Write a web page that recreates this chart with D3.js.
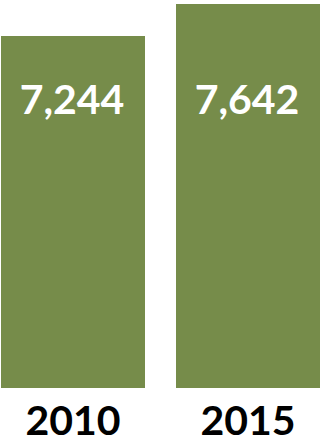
<!DOCTYPE html>
<html>
<head>
<meta charset="utf-8">
<script src="https://cdn.jsdelivr.net/npm/d3@7"></script>
<style>
  html, body { margin: 0; padding: 0; background: #fff; }
  svg { display: block; }
</style>
</head>
<body>
<svg id="chart" width="321" height="444"></svg>
<script>
// Population by year
const years = ["2010", "2015"];
const values = [7244, 7642];

const W = 321, H = 444;
const barColor = "#768C4A";
const fmt = d3.format(",");

const svg = d3.select("#chart");

const x = d3.scaleBand()
  .domain(years)
  .range([1, 320])
  .paddingInner(31 / 175)
  .paddingOuter(0);

// value axis starts above zero so the difference reads clearly
const y = d3.scaleLinear()
  .domain([2866, 7642])
  .range([388, 4]);

const data = years.map((yr, i) => ({ year: yr, value: values[i] }));

svg.selectAll("rect.bar")
  .data(data)
  .join("rect")
  .attr("class", "bar")
  .attr("x", d => x(d.year))
  .attr("y", d => y(d.value))
  .attr("width", x.bandwidth())
  .attr("height", d => y.range()[0] - y(d.value))
  .attr("fill", barColor);

svg.selectAll("text.value")
  .data(data)
  .join("text")
  .attr("class", "value")
  .attr("x", d => x(d.year) + x.bandwidth() / 2 - 1)
  .attr("y", 114)
  .attr("text-anchor", "middle")
  .attr("fill", "#fff")
  .style("font-family", "Lato, 'Open Sans', sans-serif")
  .style("font-weight", "bold")
  .style("font-size", "41px")
  .text(d => fmt(d.value));

// category axis labels beneath the bars
const xAxis = d3.axisBottom(x).tickSize(0).tickPadding(0);
const gx = svg.append("g")
  .attr("transform", "translate(0,435)")
  .call(xAxis);
gx.select(".domain").remove();
gx.selectAll("text")
  .attr("dy", 0)
  .attr("y", 0)
  .attr("fill", "#000")
  .style("font-family", "Lato, 'Open Sans', sans-serif")
  .style("font-weight", "bold")
  .style("font-size", "41px");
</script>
</body>
</html>
